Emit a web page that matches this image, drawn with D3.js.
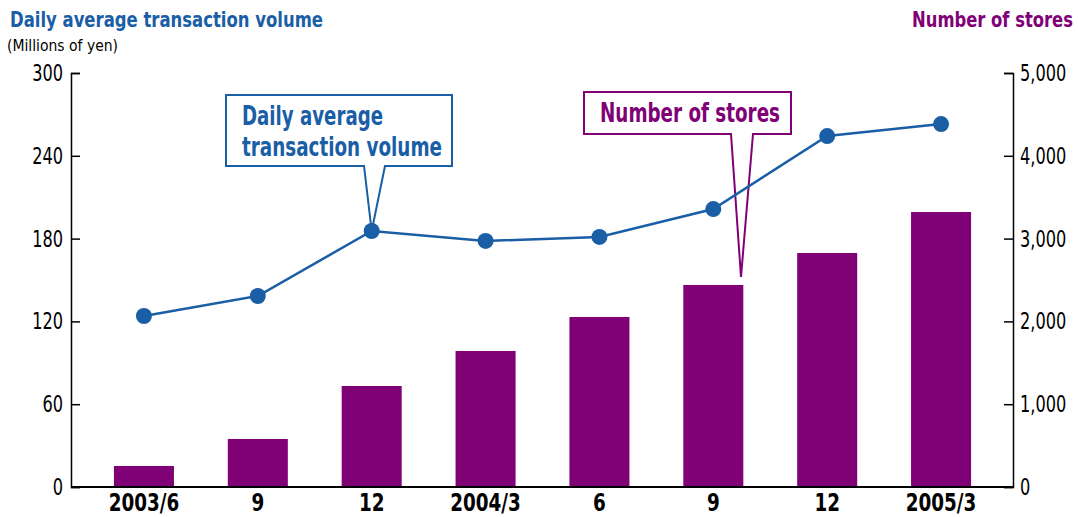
<!DOCTYPE html>
<html>
<head>
<meta charset="utf-8">
<title>stores</title>
<script src="https://d3js.org/d3.v7.min.js"></script>
<style>
  body { margin: 0; background: #fff; }
  svg text { font-family: "DejaVu Sans Condensed", "Liberation Sans Narrow", sans-serif; }
  .axis path, .axis line { fill: none; stroke: #000; stroke-width: 1.5; }
</style>
</head>
<body>
<div id="chart"></div>
<script>
var periods = ["2003/6", "9", "12", "2004/3", "6", "9 ", "12 ", "2005/3"];
var stores = [254, 580, 1220, 1643, 2053, 2440, 2826, 3321];
var volume = [123.9, 138.4, 185.5, 178.3, 181.2, 201.4, 254.3, 263.0];
var leftTicks = [0, 60, 120, 180, 240, 300];
var rightTicks = [0, 1000, 2000, 3000, 4000, 5000];

var blue = "#1a5ea6", purple = "#800076";
var width = 1078, height = 517;
var mLeft = 71, mRight = 1013, mTop = 73, mBottom = 487;

var svg = d3.select("#chart").append("svg")
    .attr("width", width)
    .attr("height", height);

// squeeze a text to a narrower width, like a condensed face
function squeeze(sel, f) {
  sel.each(function() {
    var w = this.getComputedTextLength();
    d3.select(this).attr("textLength", w * f).attr("lengthAdjust", "spacingAndGlyphs");
  });
}

var x = d3.scaleBand()
    .domain(periods)
    .range([87, 998])
    .paddingInner(0.473)
    .paddingOuter(0.2365);

var yL = d3.scaleLinear().domain([0, 300]).range([mBottom, mTop]);
var yR = d3.scaleLinear().domain([0, 5000]).range([mBottom, mTop]);

// bars
svg.append("g").selectAll("rect")
    .data(stores)
    .enter().append("rect")
    .attr("x", function(d, i) { return x(periods[i]); })
    .attr("y", function(d) { return yR(d); })
    .attr("width", x.bandwidth())
    .attr("height", function(d) { return mBottom - yR(d); })
    .attr("fill", purple);

// axes
var gl = svg.append("g").attr("class", "axis")
    .attr("transform", "translate(" + mLeft + ",0)")
    .call(d3.axisRight(yL).tickValues(leftTicks).tickSize(9).tickSizeOuter(9));
gl.selectAll("text").remove();
svg.append("g").selectAll("text")
    .data(leftTicks)
    .enter().append("text")
    .attr("x", 63)
    .attr("y", function(d) { return yL(d) + 8; })
    .attr("text-anchor", "end")
    .attr("font-size", 23)
    .text(function(d) { return d; })
    .call(squeeze, 0.78);

var gr = svg.append("g").attr("class", "axis")
    .attr("transform", "translate(" + mRight + ",0)")
    .call(d3.axisLeft(yR).tickValues(rightTicks).tickSize(9).tickSizeOuter(9));
gr.selectAll("text").remove();
svg.append("g").selectAll("text")
    .data(rightTicks)
    .enter().append("text")
    .attr("x", 1020)
    .attr("y", function(d) { return yR(d) + 8; })
    .attr("font-size", 23)
    .text(function(d) { return d3.format(",")(d); })
    .call(squeeze, 0.78);

svg.append("line")
    .attr("x1", mLeft).attr("x2", mRight)
    .attr("y1", mBottom).attr("y2", mBottom)
    .attr("stroke", "#000").attr("stroke-width", 2);

svg.append("g").selectAll("text")
    .data(periods)
    .enter().append("text")
    .attr("x", function(d) { return x(d) + x.bandwidth() / 2; })
    .attr("y", 511)
    .attr("text-anchor", "middle")
    .attr("font-size", 24)
    .attr("font-weight", "bold")
    .text(function(d) { return d.trim(); })
    .call(squeeze, 0.85);

var callouts = svg.append("g");

// line
var line = d3.line()
    .x(function(d, i) { return x(periods[i]) + x.bandwidth() / 2; })
    .y(function(d) { return yL(d); });

svg.append("path")
    .datum(volume)
    .attr("fill", "none")
    .attr("stroke", blue)
    .attr("stroke-width", 2.5)
    .attr("d", line);

svg.append("g").selectAll("circle")
    .data(volume)
    .enter().append("circle")
    .attr("cx", function(d, i) { return x(periods[i]) + x.bandwidth() / 2; })
    .attr("cy", function(d) { return yL(d); })
    .attr("r", 8)
    .attr("fill", blue);

// titles
svg.append("text").attr("x", 10).attr("y", 27)
    .attr("font-size", 22).attr("font-weight", "bold").attr("fill", blue)
    .attr("textLength", 313).attr("lengthAdjust", "spacingAndGlyphs")
    .text("Daily average transaction volume");
svg.append("text").attr("x", 7).attr("y", 51)
    .attr("font-size", 16)
    .attr("textLength", 111).attr("lengthAdjust", "spacingAndGlyphs")
    .text("(Millions of yen)");
svg.append("text").attr("x", 1073).attr("y", 27)
    .attr("text-anchor", "end")
    .attr("font-size", 22).attr("font-weight", "bold").attr("fill", purple)
    .attr("textLength", 161).attr("lengthAdjust", "spacingAndGlyphs")
    .text("Number of stores");

// callouts
function callout(g, bx, by, bw, bh, p1, p2, tip, color, lines, lens) {
  var path = "M" + bx + "," + by + "H" + (bx + bw) + "V" + (by + bh) +
    "H" + p2 + "L" + tip[0] + "," + tip[1] + "L" + p1 + "," + (by + bh) + "H" + bx + "Z";
  g.append("path").attr("d", path)
    .attr("fill", "#fff").attr("stroke", color).attr("stroke-width", 2);
  lines.forEach(function(t, i) {
    g.append("text").attr("x", bx + 16).attr("y", by + 30 + i * 31)
      .attr("font-size", 26).attr("font-weight", "bold").attr("fill", color)
      .attr("textLength", lens[i]).attr("lengthAdjust", "spacingAndGlyphs")
      .text(t);
  });
}
var c3 = x(periods[2]) + x.bandwidth() / 2;
callout(callouts, 226, 95, 226, 71, 364, 385, [c3, yL(volume[2])], blue,
  ["Daily average", "transaction volume"], [141, 200]);
callout(callouts, 584, 92, 207, 42, 731, 753, [741, 277], purple, ["Number of stores"], [180]);
</script>
</body>
</html>
